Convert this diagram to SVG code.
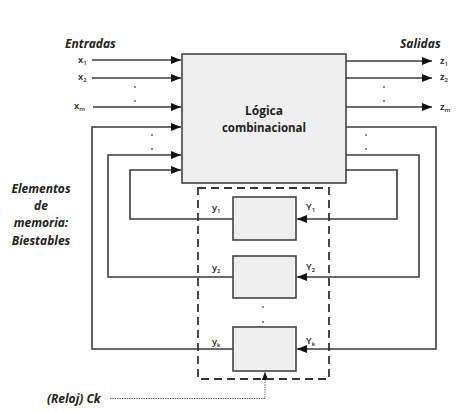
<svg xmlns="http://www.w3.org/2000/svg" width="475" height="412" viewBox="0 0 475 412">
<style>
.ln{fill:none;stroke:#3a3a3a;stroke-width:1.6}
.box{fill:#efefef;stroke:#444;stroke-width:1.6}
.lab{font-family:"Open Sans","Liberation Sans",sans-serif;font-size:9.5px;fill:#222;font-weight:600}
.sub{font-size:6px}
.it{font-family:"Open Sans","Liberation Sans",sans-serif;font-size:12px;font-weight:bold;font-style:italic;fill:#222}
.dot{fill:#555}
</style>
<defs>
<marker id="ah" viewBox="0 0 10 8" refX="10" refY="4" markerWidth="10" markerHeight="8" markerUnits="userSpaceOnUse" orient="auto">
<path d="M0,0 L10,4 L0,8 Z" fill="#111"/>
</marker>
<marker id="ahs" viewBox="0 0 10 8" refX="10" refY="4" markerWidth="8" markerHeight="7" markerUnits="userSpaceOnUse" orient="auto">
<path d="M0,0 L10,4 L0,8 Z" fill="#111"/>
</marker>
</defs>
<g id="connectors">
<path class="ln" d="M92,60 H181" marker-end="url(#ah)"/>
<path class="ln" d="M92,78 H181" marker-end="url(#ah)"/>
<path class="ln" d="M93,107 H181" marker-end="url(#ah)"/>
<path class="ln" d="M346,61 H432" marker-end="url(#ah)"/>
<path class="ln" d="M346,78 H432" marker-end="url(#ah)"/>
<path class="ln" d="M346,107 H432" marker-end="url(#ah)"/>
<path class="ln" d="M233,219 H130 V170 H181" marker-end="url(#ah)"/>
<path class="ln" d="M233,277 H108 V155 H181" marker-end="url(#ah)"/>
<path class="ln" d="M233,349 H92 V127 H181" marker-end="url(#ah)"/>
<path class="ln" d="M346,170 H397 V219 H297" marker-end="url(#ah)"/>
<path class="ln" d="M346,155 H419 V277 H297" marker-end="url(#ah)"/>
<path class="ln" d="M346,127 H436 V349 H297" marker-end="url(#ah)"/>
<path d="M110,398.5 H265 V372" fill="none" stroke="#444" stroke-width="1" stroke-dasharray="1.2,1.2" marker-end="url(#ahs)"/>
</g>
<g id="memoria">
<rect x="198" y="188" width="131" height="191" fill="none" stroke="#333" stroke-width="1.8" stroke-dasharray="8,5"/>
</g>
<g id="logica">
<rect class="box" x="182" y="54" width="164" height="129"/>
<text x="264" y="115" text-anchor="middle" font-family="'Open Sans','Liberation Sans',sans-serif" font-size="12" font-weight="bold" fill="#222">Lógica</text>
<text x="264" y="132" text-anchor="middle" font-family="'Open Sans','Liberation Sans',sans-serif" font-size="11.5" font-weight="bold" fill="#222">combinacional</text>
</g>
<g id="ff1"><rect class="box" x="233" y="197" width="63" height="43"/></g>
<g id="ff2"><rect class="box" x="233" y="256" width="63" height="42"/></g>
<g id="ffk"><rect class="box" x="233" y="327" width="63" height="44"/></g>
<g id="labels">
<text class="it" x="65" y="48">Entradas</text>
<text class="it" x="400" y="48">Salidas</text>
<text class="lab" x="78" y="63">x<tspan class="sub" dy="2">1</tspan></text>
<text class="lab" x="78" y="80">x<tspan class="sub" dy="2">2</tspan></text>
<text class="lab" x="74" y="109">x<tspan class="sub" dy="2">m</tspan></text>
<text class="lab" x="440" y="64">z<tspan class="sub" dy="2">1</tspan></text>
<text class="lab" x="440" y="80">z<tspan class="sub" dy="2">2</tspan></text>
<text class="lab" x="440" y="110">z<tspan class="sub" dy="2">m</tspan></text>
<text class="lab" x="212" y="211">y<tspan class="sub" dy="2">1</tspan></text>
<text class="lab" x="212" y="271">y<tspan class="sub" dy="2">2</tspan></text>
<text class="lab" x="212" y="345">y<tspan class="sub" dy="2">k</tspan></text>
<text class="lab" x="306" y="210">Y<tspan class="sub" dy="2">1</tspan></text>
<text class="lab" x="306" y="270">Y<tspan class="sub" dy="2">2</tspan></text>
<text class="lab" x="306" y="344">Y<tspan class="sub" dy="2">k</tspan></text>
<text class="it" x="41" y="193" text-anchor="middle">Elementos</text>
<text class="it" x="41" y="210" text-anchor="middle">de</text>
<text class="it" x="41" y="227" text-anchor="middle">memoria:</text>
<text class="it" x="41" y="245" text-anchor="middle">Biestables</text>
<text class="it" x="47" y="403">(Reloj) Ck</text>
</g>
<g id="dots">
<circle class="dot" cx="135" cy="87" r="0.9"/>
<circle class="dot" cx="135" cy="101" r="0.9"/>
<circle class="dot" cx="152" cy="135" r="0.9"/>
<circle class="dot" cx="152" cy="149" r="0.9"/>
<circle class="dot" cx="384" cy="87" r="0.9"/>
<circle class="dot" cx="384" cy="101" r="0.9"/>
<circle class="dot" cx="366" cy="135" r="0.9"/>
<circle class="dot" cx="366" cy="149" r="0.9"/>
<circle class="dot" cx="263" cy="307" r="0.9"/>
<circle class="dot" cx="263" cy="322" r="0.9"/>
</g>
</svg>
